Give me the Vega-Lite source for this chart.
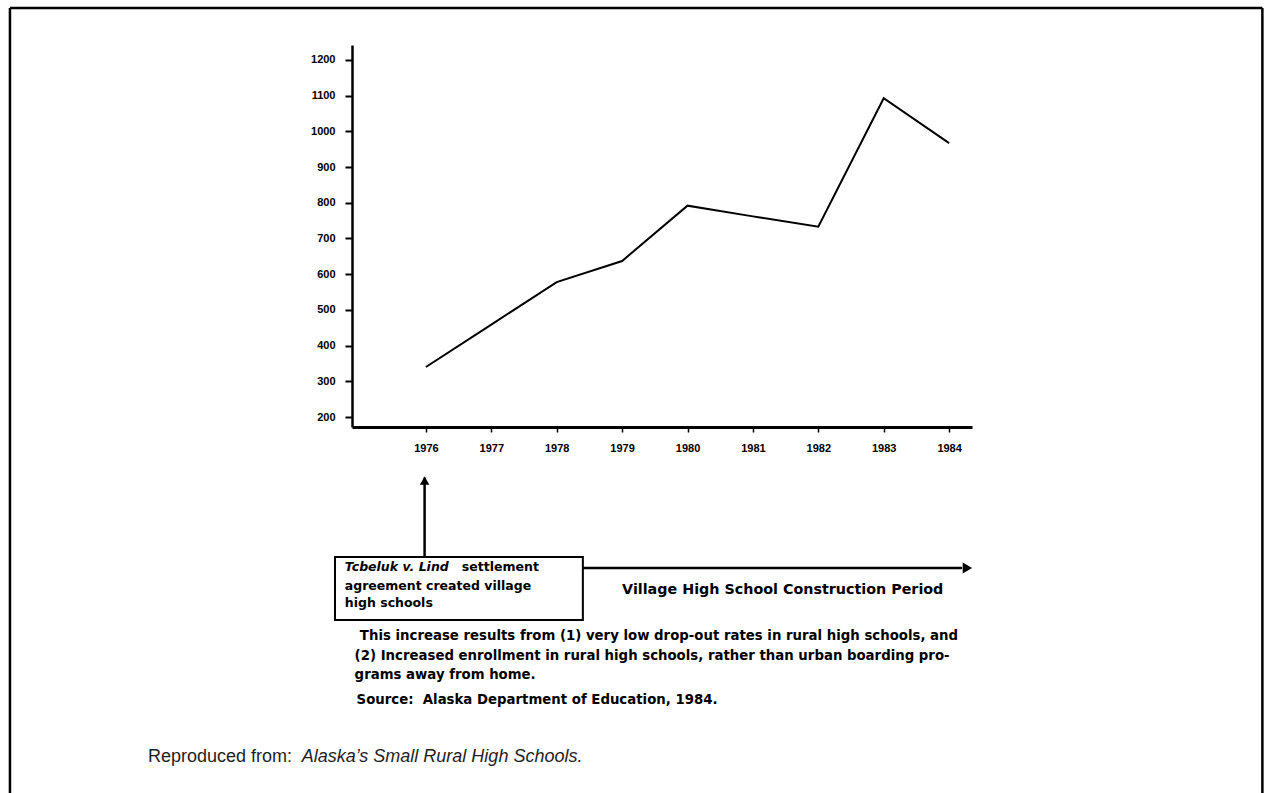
{
  "$schema": "https://vega.github.io/schema/vega-lite/v6.json",
  "autosize": {"type": "none"},
  "width": 620,
  "height": 382,
  "padding": {"left": 352, "top": 45, "right": 304, "bottom": 366},
  "background": "white",
  "config": {
    "view": {"stroke": null},
    "font": "Liberation Sans",
    "axis": {
      "title": null, "grid": false, "domainColor": "black", "tickColor": "black",
      "labelFont": "Liberation Sans", "labelFontWeight": "bold", "labelFontSize": 11,
      "labelColor": "black", "labelPadding": 10, "labelOverlap": false
    },
    "axisX": {"domainWidth": 3, "tickSize": 5, "tickWidth": 1.5},
    "axisY": {"domainWidth": 2.5, "tickSize": 7, "tickWidth": 2}
  },
  "datasets": {
    "enrollment": [
      {"year": 1976, "enrollment": 340},
      {"year": 1977, "enrollment": 459},
      {"year": 1978, "enrollment": 578},
      {"year": 1979, "enrollment": 637},
      {"year": 1980, "enrollment": 792},
      {"year": 1981, "enrollment": 762},
      {"year": 1982, "enrollment": 733},
      {"year": 1983, "enrollment": 1093},
      {"year": 1984, "enrollment": 967}
    ],
    "lines": [
      {"x": 1975.98, "x2": 1975.98, "y": -192, "y2": 30},
      {"x": 1978.4, "x2": 1984.2, "y": -223, "y2": -223},
      {"x": 1969.64, "x2": 1969.64, "y": 1345.7, "y2": -900},
      {"x": 1969.64, "x2": 1988.79, "y": 1345.7, "y2": 1345.7},
      {"x": 1988.79, "x2": 1988.79, "y": 1345.7, "y2": -900}
    ],
    "box": [
      {"x": 1974.61, "x2": 1978.4, "y": -192, "y2": -368.6}
    ],
    "headsUp": [{"x": 1975.98, "y": 22}],
    "headsRight": [{"x": 1984.28, "y": -223}],
    "boxText": [
      {"x": 1976.55, "y": -220, "label": "settlement"},
      {"x": 1974.76, "y": -273, "label": "agreement created village"},
      {"x": 1974.76, "y": -321, "label": "high schools"}
    ],
    "captionText": [
      {"x": 1974.99, "y": -413.4, "label": "This increase results from (1) very low drop-out rates in rural high schools, and"},
      {"x": 1974.91, "y": -469.5, "label": "(2) Increased enrollment in rural high schools, rather than urban boarding pro-"},
      {"x": 1974.91, "y": -522.7, "label": "grams away from home."},
      {"x": 1974.94, "y": -592.7, "label": "Source:\u00a0 Alaska Department of Education, 1984."}
    ],
    "italicBoldText": [
      {"x": 1974.76, "y": -220, "label": "Tcbeluk v. Lind"}
    ],
    "periodText": [
      {"x": 1979.0, "y": -284.6, "label": "Village High School Construction Period"}
    ],
    "reproPlain": [
      {"x": 1971.75, "y": -752.4, "label": "Reproduced from:"}
    ],
    "reproItalic": [
      {"x": 1974.1, "y": -752.4, "label": "Alaska’s Small Rural High Schools."}
    ]
  },
  "layer": [
    {
      "data": {"name": "enrollment"},
      "mark": {"type": "line", "color": "black", "strokeWidth": 2},
      "encoding": {
        "x": {
          "field": "year", "type": "quantitative",
          "scale": {"domain": [1974.87, 1984.35], "nice": false, "zero": false},
          "axis": {"values": [1976, 1977, 1978, 1979, 1980, 1981, 1982, 1983, 1984], "format": "d"}
        },
        "y": {
          "field": "enrollment", "type": "quantitative",
          "scale": {"domain": [172, 1242], "nice": false, "zero": false},
          "axis": {"values": [200, 300, 400, 500, 600, 700, 800, 900, 1000, 1100, 1200], "format": "d", "tickCount": 11}
        }
      }
    },
    {
      "data": {"name": "lines"},
      "mark": {"type": "rule", "color": "black", "strokeWidth": 2.5},
      "encoding": {
        "x": {"field": "x", "type": "quantitative", "axis": {"values": [1976, 1977, 1978, 1979, 1980, 1981, 1982, 1983, 1984], "format": "d"}},
        "x2": {"field": "x2"},
        "y": {"field": "y", "type": "quantitative", "axis": {"values": [200, 300, 400, 500, 600, 700, 800, 900, 1000, 1100, 1200], "format": "d", "tickCount": 11}},
        "y2": {"field": "y2"}
      }
    },
    {
      "data": {"name": "box"},
      "mark": {"type": "rect", "filled": false, "stroke": "black", "strokeWidth": 2},
      "encoding": {
        "x": {"field": "x", "type": "quantitative", "axis": {"values": [1976, 1977, 1978, 1979, 1980, 1981, 1982, 1983, 1984], "format": "d"}},
        "x2": {"field": "x2"},
        "y": {"field": "y", "type": "quantitative", "axis": {"values": [200, 300, 400, 500, 600, 700, 800, 900, 1000, 1100, 1200], "format": "d", "tickCount": 11}},
        "y2": {"field": "y2"}
      }
    },
    {
      "data": {"name": "headsUp"},
      "mark": {"type": "point", "shape": "triangle-up", "filled": true, "color": "black", "size": 90, "opacity": 1},
      "encoding": {
        "x": {"field": "x", "type": "quantitative", "axis": {"values": [1976, 1977, 1978, 1979, 1980, 1981, 1982, 1983, 1984], "format": "d"}},
        "y": {"field": "y", "type": "quantitative", "axis": {"values": [200, 300, 400, 500, 600, 700, 800, 900, 1000, 1100, 1200], "format": "d", "tickCount": 11}}
      }
    },
    {
      "data": {"name": "headsRight"},
      "mark": {"type": "point", "shape": "triangle-right", "filled": true, "color": "black", "size": 120, "opacity": 1},
      "encoding": {
        "x": {"field": "x", "type": "quantitative", "axis": {"values": [1976, 1977, 1978, 1979, 1980, 1981, 1982, 1983, 1984], "format": "d"}},
        "y": {"field": "y", "type": "quantitative", "axis": {"values": [200, 300, 400, 500, 600, 700, 800, 900, 1000, 1100, 1200], "format": "d", "tickCount": 11}}
      }
    },
    {
      "data": {"name": "boxText"},
      "mark": {"type": "text", "align": "left", "baseline": "middle", "font": "DejaVu Sans", "fontWeight": "bold", "fontSize": 12.5, "color": "black"},
      "encoding": {
        "x": {"field": "x", "type": "quantitative", "axis": {"values": [1976, 1977, 1978, 1979, 1980, 1981, 1982, 1983, 1984], "format": "d"}},
        "y": {"field": "y", "type": "quantitative", "axis": {"values": [200, 300, 400, 500, 600, 700, 800, 900, 1000, 1100, 1200], "format": "d", "tickCount": 11}},
        "text": {"field": "label"}
      }
    },
    {
      "data": {"name": "captionText"},
      "mark": {"type": "text", "align": "left", "baseline": "middle", "font": "DejaVu Sans", "fontWeight": "bold", "fontSize": 13.3, "color": "black"},
      "encoding": {
        "x": {"field": "x", "type": "quantitative", "axis": {"values": [1976, 1977, 1978, 1979, 1980, 1981, 1982, 1983, 1984], "format": "d"}},
        "y": {"field": "y", "type": "quantitative", "axis": {"values": [200, 300, 400, 500, 600, 700, 800, 900, 1000, 1100, 1200], "format": "d", "tickCount": 11}},
        "text": {"field": "label"}
      }
    },
    {
      "data": {"name": "italicBoldText"},
      "mark": {"type": "text", "align": "left", "baseline": "middle", "font": "DejaVu Sans", "fontWeight": "bold", "fontStyle": "italic", "fontSize": 12.5, "color": "black"},
      "encoding": {
        "x": {"field": "x", "type": "quantitative", "axis": {"values": [1976, 1977, 1978, 1979, 1980, 1981, 1982, 1983, 1984], "format": "d"}},
        "y": {"field": "y", "type": "quantitative", "axis": {"values": [200, 300, 400, 500, 600, 700, 800, 900, 1000, 1100, 1200], "format": "d", "tickCount": 11}},
        "text": {"field": "label"}
      }
    },
    {
      "data": {"name": "periodText"},
      "mark": {"type": "text", "align": "left", "baseline": "middle", "font": "DejaVu Sans", "fontWeight": "bold", "fontSize": 14.3, "color": "black"},
      "encoding": {
        "x": {"field": "x", "type": "quantitative", "axis": {"values": [1976, 1977, 1978, 1979, 1980, 1981, 1982, 1983, 1984], "format": "d"}},
        "y": {"field": "y", "type": "quantitative", "axis": {"values": [200, 300, 400, 500, 600, 700, 800, 900, 1000, 1100, 1200], "format": "d", "tickCount": 11}},
        "text": {"field": "label"}
      }
    },
    {
      "data": {"name": "reproPlain"},
      "mark": {"type": "text", "align": "left", "baseline": "middle", "font": "Liberation Sans", "fontSize": 18, "color": "#1e1e1e"},
      "encoding": {
        "x": {"field": "x", "type": "quantitative", "axis": {"values": [1976, 1977, 1978, 1979, 1980, 1981, 1982, 1983, 1984], "format": "d"}},
        "y": {"field": "y", "type": "quantitative", "axis": {"values": [200, 300, 400, 500, 600, 700, 800, 900, 1000, 1100, 1200], "format": "d", "tickCount": 11}},
        "text": {"field": "label"}
      }
    },
    {
      "data": {"name": "reproItalic"},
      "mark": {"type": "text", "align": "left", "baseline": "middle", "font": "Liberation Sans", "fontStyle": "italic", "fontSize": 18, "color": "#1e1e1e"},
      "encoding": {
        "x": {"field": "x", "type": "quantitative", "axis": {"values": [1976, 1977, 1978, 1979, 1980, 1981, 1982, 1983, 1984], "format": "d"}},
        "y": {"field": "y", "type": "quantitative", "axis": {"values": [200, 300, 400, 500, 600, 700, 800, 900, 1000, 1100, 1200], "format": "d", "tickCount": 11}},
        "text": {"field": "label"}
      }
    }
  ]
}
